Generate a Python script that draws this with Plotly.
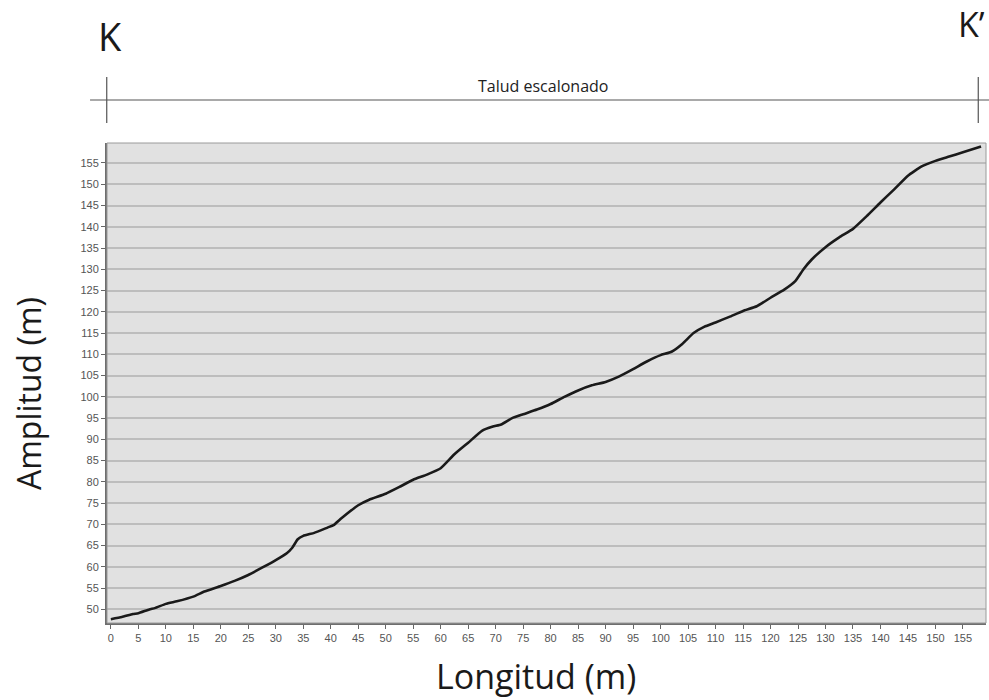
import plotly.graph_objects as go

# Perfil topográfico K – K'
longitud = [0, 2, 4, 5, 7, 8, 10, 12, 15, 17, 20, 22.5, 25, 27.5, 30, 32, 33, 34, 35, 37,
            39.5, 40.5, 42, 45, 47, 50, 52.5, 55, 57.5, 60, 62.5, 65, 67.5, 69.5, 71, 73,
            75, 77.5, 80, 82.5, 85, 87.5, 90, 92.5, 95, 97.5, 100, 102, 104, 106, 108, 110,
            112.5, 115, 117.5, 120, 122.5, 124.5, 126, 127.5, 130, 132.5, 135, 137.5, 140,
            142.5, 145, 147.5, 150, 152.5, 155, 158.3]
amplitud = [47.7, 48.2, 48.9, 49.1, 50.0, 50.3, 51.3, 51.9, 53.0, 54.2, 55.5, 56.7, 58.1,
            59.8, 61.6, 63.2, 64.5, 66.5, 67.3, 68.0, 69.3, 69.8, 71.5, 74.5, 75.8, 77.2,
            78.8, 80.5, 81.7, 83.2, 86.5, 89.2, 92.0, 93.0, 93.5, 95.0, 95.9, 97.0, 98.3,
            100.0, 101.5, 102.7, 103.5, 104.8, 106.5, 108.3, 109.8, 110.6, 112.5, 115.0,
            116.5, 117.5, 118.8, 120.2, 121.3, 123.3, 125.2, 127.2, 130.0, 132.3, 135.2,
            137.5, 139.5, 142.5, 145.7, 148.8, 152.0, 154.2, 155.5, 156.5, 157.5, 158.9]

x_ticks = list(range(0, 160, 5))
y_ticks = list(range(50, 160, 5))

titulo_tramo = "Talud escalonado"
inicio, fin = "K", "K’"

fig = go.Figure()
fig.add_trace(go.Scatter(
    x=longitud, y=amplitud, mode="lines",
    line=dict(color="#1a1a1a", width=2.6, shape="spline", smoothing=0.4),
    hoverinfo="skip", showlegend=False,
))

tick_font = dict(family="Liberation Sans, Arial", size=11, color="#555555")

fig.update_xaxes(
    range=[-0.7, 159.2], tickvals=x_ticks, ticktext=[str(v) for v in x_ticks],
    showgrid=False, zeroline=False, showline=True, linecolor="#6e6e6e", linewidth=2,
    ticks="outside", ticklen=4, tickcolor="#666666", tickfont=tick_font,
)
fig.update_yaxes(
    range=[46.8, 159.7], tickvals=y_ticks, ticktext=[str(v) for v in y_ticks],
    showgrid=True, gridcolor="#bdbdbd", gridwidth=1.6, zeroline=False,
    showline=True, linecolor="#6e6e6e", linewidth=2,
    ticks="outside", ticklen=4, tickcolor="#666666", tickfont=tick_font,
)

shapes = [
    # light frame on the top and right edges
    dict(type="rect", xref="paper", yref="paper", x0=0, x1=1, y0=0, y1=1,
         line=dict(color="#9a9a9a", width=1), layer="above"),
    # bracket marking the slope section
    dict(type="line", xref="paper", yref="paper", x0=-0.0193, x1=1.004, y0=1.0896, y1=1.0896,
         line=dict(color="#555555", width=1.2)),
    dict(type="line", xref="paper", yref="paper", x0=-0.0003, x1=-0.0003, y0=1.0417, y1=1.1376,
         line=dict(color="#555555", width=1.2)),
    dict(type="line", xref="paper", yref="paper", x0=0.9912, x1=0.9912, y0=1.0417, y1=1.1376,
         line=dict(color="#555555", width=1.2)),
]

title_font = "Open Sans, Noto Sans, sans-serif"
annotations = [
    dict(text=titulo_tramo, xref="paper", yref="paper", x=0.496, y=1.1188,
         xanchor="center", yanchor="middle", showarrow=False,
         font=dict(family=title_font, size=16, color="#222222")),
    dict(text=inicio, xref="paper", yref="paper", x=0.0034, y=1.222,
         xanchor="center", yanchor="middle", showarrow=False,
         font=dict(family=title_font, size=38, color="#1a1a1a")),
    dict(text=fin, xref="paper", yref="paper", x=0.984, y=1.248,
         xanchor="center", yanchor="middle", showarrow=False,
         font=dict(family=title_font, size=34, color="#1a1a1a")),
    dict(text="Amplitud (m)", xref="paper", yref="paper", x=-0.0899, y=0.479,
         xanchor="center", yanchor="middle", textangle=-90, showarrow=False,
         font=dict(family=title_font, size=32, color="#1a1a1a")),
    dict(text="Longitud (m)", xref="paper", yref="paper", x=0.4875, y=-0.1613,
         xanchor="center", yanchor="bottom", showarrow=False, borderpad=0,
         font=dict(family=title_font, size=34, color="#1a1a1a")),
]

fig.update_layout(
    width=989, height=700,
    margin=dict(l=107, r=3, t=143, b=77, autoexpand=False),
    paper_bgcolor="white", plot_bgcolor="#e1e1e1",
    shapes=shapes, annotations=annotations, showlegend=False,
)

fig.write_html("out.html")
